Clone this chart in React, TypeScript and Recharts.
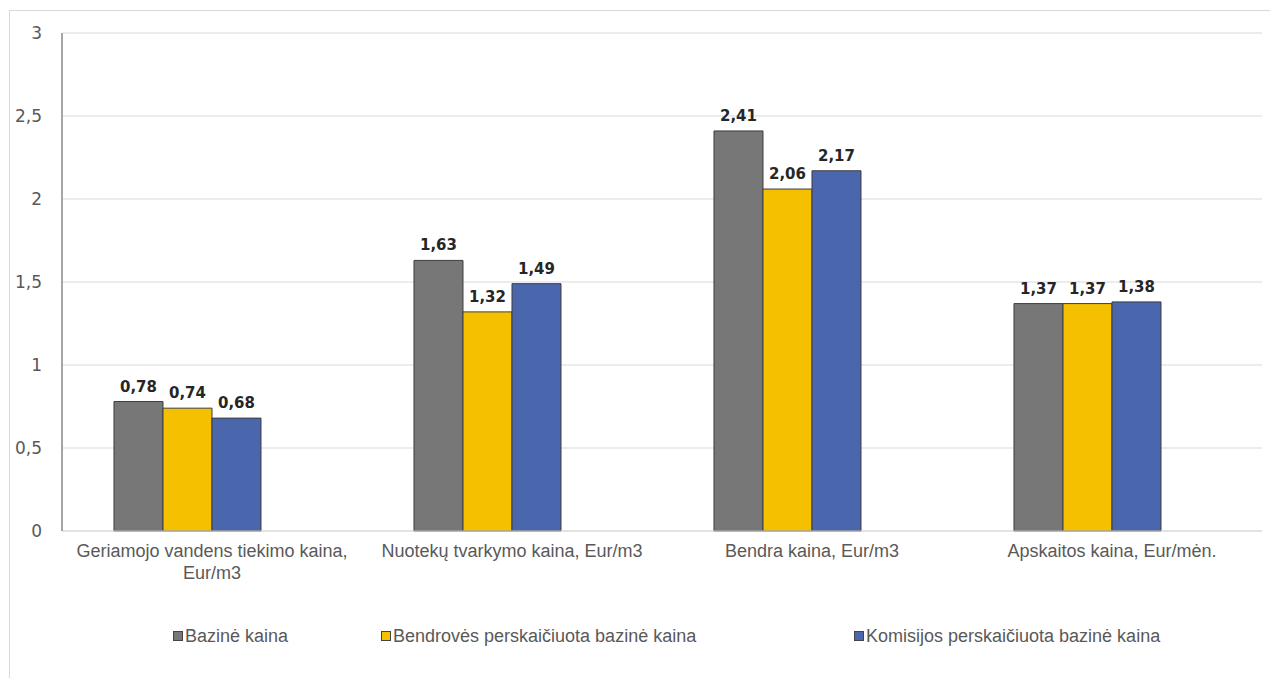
import { BarChart, Bar, XAxis, YAxis, CartesianGrid, Legend, LabelList, Text } from "recharts";

// Kategorijos ir reikšmės
const categories = [
    "Geriamojo vandens tiekimo kaina, Eur/m3",
    "Nuotekų tvarkymo kaina, Eur/m3",
    "Bendra kaina, Eur/m3",
    "Apskaitos kaina, Eur/mėn.",
];
const bazine = [0.78, 1.63, 2.41, 1.37];
const bendroves = [0.74, 1.32, 2.06, 1.37];
const komisijos = [0.68, 1.49, 2.17, 1.38];
const yTicks = [0, 0.5, 1, 1.5, 2, 2.5, 3];

const seriesNames = [
    "Bazinė kaina",
    "Bendrovės perskaičiuota bazinė kaina",
    "Komisijos perskaičiuota bazinė kaina",
];

const data = categories.map((name, i) => ({
    name,
    bazine: bazine[i],
    bendroves: bendroves[i],
    komisijos: komisijos[i],
    tuscia: null,
}));

const colors = ["#777777", "#f5c000", "#4a67ad"];
const legendLeft = [163, 371, 844];

const fmt = (v: number) => String(v).replace(".", ",");
const fmt2 = (v: number) => v.toFixed(2).replace(".", ",");

const labelFont = { fontSize: 18, fontFamily: "Liberation Sans, Arial, sans-serif" };

function CategoryTick(props: any) {
    const { x, y, payload } = props;
    return (
        <Text
            x={x}
            y={y + 13}
            width={290}
            textAnchor="middle"
            verticalAnchor="start"
            lineHeight={22}
            style={labelFont}
            fontSize={18}
            fontFamily={labelFont.fontFamily}
            fill="#595959"
        >
            {payload.value}
        </Text>
    );
}

function CustomLegend(props: any) {
    const items = (props.payload || []).filter((p: any) => p.type !== "none");
    return (
        <div style={{ position: "relative", height: 26 }}>
            {items.map((item: any, i: number) => (
                <div
                    key={item.value}
                    style={{
                        position: "absolute",
                        left: legendLeft[i],
                        top: 0,
                        display: "flex",
                        alignItems: "center",
                        height: 26,
                        fontFamily: labelFont.fontFamily,
                        fontSize: 18,
                        color: "#595959",
                        whiteSpace: "nowrap",
                    }}
                >
                    <span
                        style={{
                            display: "inline-block",
                            width: 8,
                            height: 8,
                            background: item.color,
                            border: "1px solid #444",
                            marginRight: 2,
                        }}
                    />
                    {item.value}
                </div>
            ))}
        </div>
    );
}

export default function App() {
    const keys = ["bazine", "bendroves", "komisijos"];
    return (
        <div
            style={{
                position: "relative",
                left: 1,
                top: 2,
                width: 1262,
                height: 668,
                border: "1px solid #d9d9d9",
                background: "#fff",
            }}
        >
            <BarChart
                width={1262}
                height={668}
                data={data}
                margin={{ top: 22, right: 10, left: 0, bottom: 88 }}
                barCategoryGap="17.33%"
                barGap={0}
            >
                <CartesianGrid vertical={false} stroke="#d9d9d9" />
                <XAxis
                    dataKey="name"
                    height={60}
                    tickLine={false}
                    tickSize={0}
                    tickMargin={0}
                    interval={0}
                    axisLine={{ stroke: "#d9d9d9" }}
                    tick={<CategoryTick />}
                />
                <YAxis
                    width={52}
                    domain={[0, 3]}
                    ticks={yTicks}
                    tickFormatter={fmt}
                    tickLine={false}
                    tickSize={0}
                    tickMargin={20}
                    axisLine={{ stroke: "#a6a6a6", strokeWidth: 2 }}
                    tick={{ fill: "#595959", fontSize: 17, fontFamily: "DejaVu Sans, sans-serif" }}
                />
                <Legend
                    verticalAlign="middle"
                    align="center"
                    layout="horizontal"
                    wrapperStyle={{ top: 612, left: 0, width: 1262, height: 26 }}
                    content={<CustomLegend />}
                />
                {keys.map((k, i) => (
                    <Bar
                        key={k}
                        dataKey={k}
                        name={seriesNames[i]}
                        fill={colors[i]}
                        stroke="#3d3d3d"
                        strokeWidth={1}
                        isAnimationActive={false}
                    >
                        <LabelList
                            dataKey={k}
                            position="top"
                            offset={10}
                            formatter={(v: any) => fmt2(Number(v))}
                            fill="#262626"
                            fontSize={15}
                            fontWeight="bold"
                            fontFamily="DejaVu Sans, sans-serif"
                        />
                    </Bar>
                ))}
                <Bar dataKey="tuscia" legendType="none" fill="none" isAnimationActive={false} />
            </BarChart>
        </div>
    );
}
